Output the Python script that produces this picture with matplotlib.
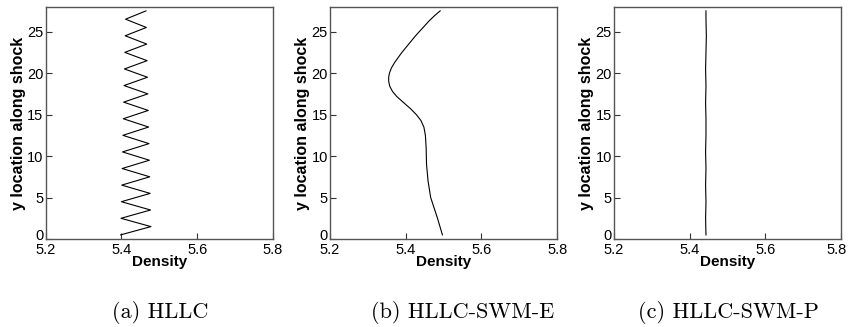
import matplotlib
matplotlib.use("Agg")
import matplotlib.pyplot as plt
from matplotlib.transforms import ScaledTranslation

OUTPUT = "out.png"

# (a) HLLC: zigzag, alternating left/right vertices
Y_HLLC = [0.5, 1.5, 2.5, 3.5, 4.5, 5.5, 6.5, 7.5, 8.5, 9.5, 10.5, 11.5, 12.5, 13.5,
          14.5, 15.5, 16.5, 17.5, 18.5, 19.5, 20.5, 21.5, 22.5, 23.5, 24.5, 25.5,
          26.5, 27.5]
X_HLLC = [5.398, 5.478, 5.399, 5.477, 5.400, 5.476, 5.401, 5.475, 5.402, 5.474,
          5.403, 5.473, 5.404, 5.472, 5.405, 5.471, 5.406, 5.470, 5.407, 5.469,
          5.408, 5.468, 5.409, 5.467, 5.410, 5.466, 5.411, 5.465]

# (b) HLLC-SWM-E
Y_SWM_E = [0.5, 2.5, 5.0, 7.0, 9.0, 11.0, 12.5, 13.5, 14.3, 15.0, 15.7, 16.5,
           17.2, 17.8, 18.4, 19.0, 19.5, 20.0, 20.6, 21.3, 22.5, 23.5, 24.5, 25.5,
           26.3, 27.0, 27.5]
X_SWM_E = [5.497, 5.484, 5.466, 5.459, 5.455, 5.454, 5.452, 5.448, 5.440, 5.428,
           5.413, 5.393, 5.376, 5.365, 5.358, 5.355, 5.355, 5.357, 5.362, 5.371,
           5.390, 5.408, 5.426, 5.446, 5.462, 5.478, 5.491]

# (c) HLLC-SWM-P: nearly constant
Y_SWM_P = [0.5, 2.5, 4.5, 6.5, 8.5, 10.5, 12.5, 14.5, 16.5, 18.5, 20.5, 22.5,
           24.5, 26.5, 27.5]
X_SWM_P = [5.443, 5.442, 5.443, 5.442, 5.443, 5.442, 5.443, 5.443, 5.442, 5.443,
           5.442, 5.443, 5.444, 5.443, 5.443]

X_TICKS = [5.2, 5.4, 5.6, 5.8]
Y_TICKS = [0, 5, 10, 15, 20, 25]
CAPTIONS = ["(a) HLLC", "(b) HLLC-SWM-E", "(c) HLLC-SWM-P"]

PANELS = [(X_HLLC, Y_HLLC), (X_SWM_E, Y_SWM_E), (X_SWM_P, Y_SWM_P)]
LEFTS = [0.0538, 0.3887, 0.7232]
WIDTH = 0.2675
BOTTOM = 0.269
HEIGHT = 0.7104
CAPTION_X = [160 / 849, 463 / 849, 728 / 849]

plt.rcParams["font.family"] = ["Liberation Sans", "DejaVu Sans"]

fig = plt.figure(figsize=(8.49, 3.27), dpi=100)


def nudge(label, dx_pt, dy_pt):
    label.set_transform(label.get_transform()
                        + ScaledTranslation(dx_pt / 72, dy_pt / 72, fig.dpi_scale_trans))


for i, (xs, ys) in enumerate(PANELS):
    ax = fig.add_axes([LEFTS[i], BOTTOM, WIDTH, HEIGHT])
    ax.plot(xs, ys, color="black", lw=0.8)
    ax.set_xlim(5.2, 5.8)
    ax.set_ylim(0, 28)
    ax.set_xticks(X_TICKS)
    ax.set_xticklabels([f"{v:.1f}" for v in X_TICKS])
    ax.set_yticks(Y_TICKS)
    ax.tick_params(direction="in", length=4, width=0.8, labelsize=10.5,
                   color="#333333")
    ax.tick_params(axis="x", pad=2.5)
    ax.tick_params(axis="y", pad=1.5)
    for s in ax.spines.values():
        s.set_color("#555555")
        s.set_linewidth(1.0)
    ax.set_xlabel("Density", fontsize=11, fontweight="bold", labelpad=-1)
    ax.set_ylabel("y location along shock", fontsize=11.5, fontweight="bold",
                  labelpad=1)
    # "0" sits right on top of "5.2" in the original; lift it a touch
    nudge(ax.get_yticklabels()[0], 0, 3.5)
    if i == 2:
        # keep the last tick label inside the canvas
        nudge(ax.get_xticklabels()[-1], -3, 0)
    fig.text(CAPTION_X[i], 1 - 312 / 327, CAPTIONS[i], family="cmr10",
             fontsize=16, ha="center", va="center")

fig.savefig(OUTPUT, dpi=100)
